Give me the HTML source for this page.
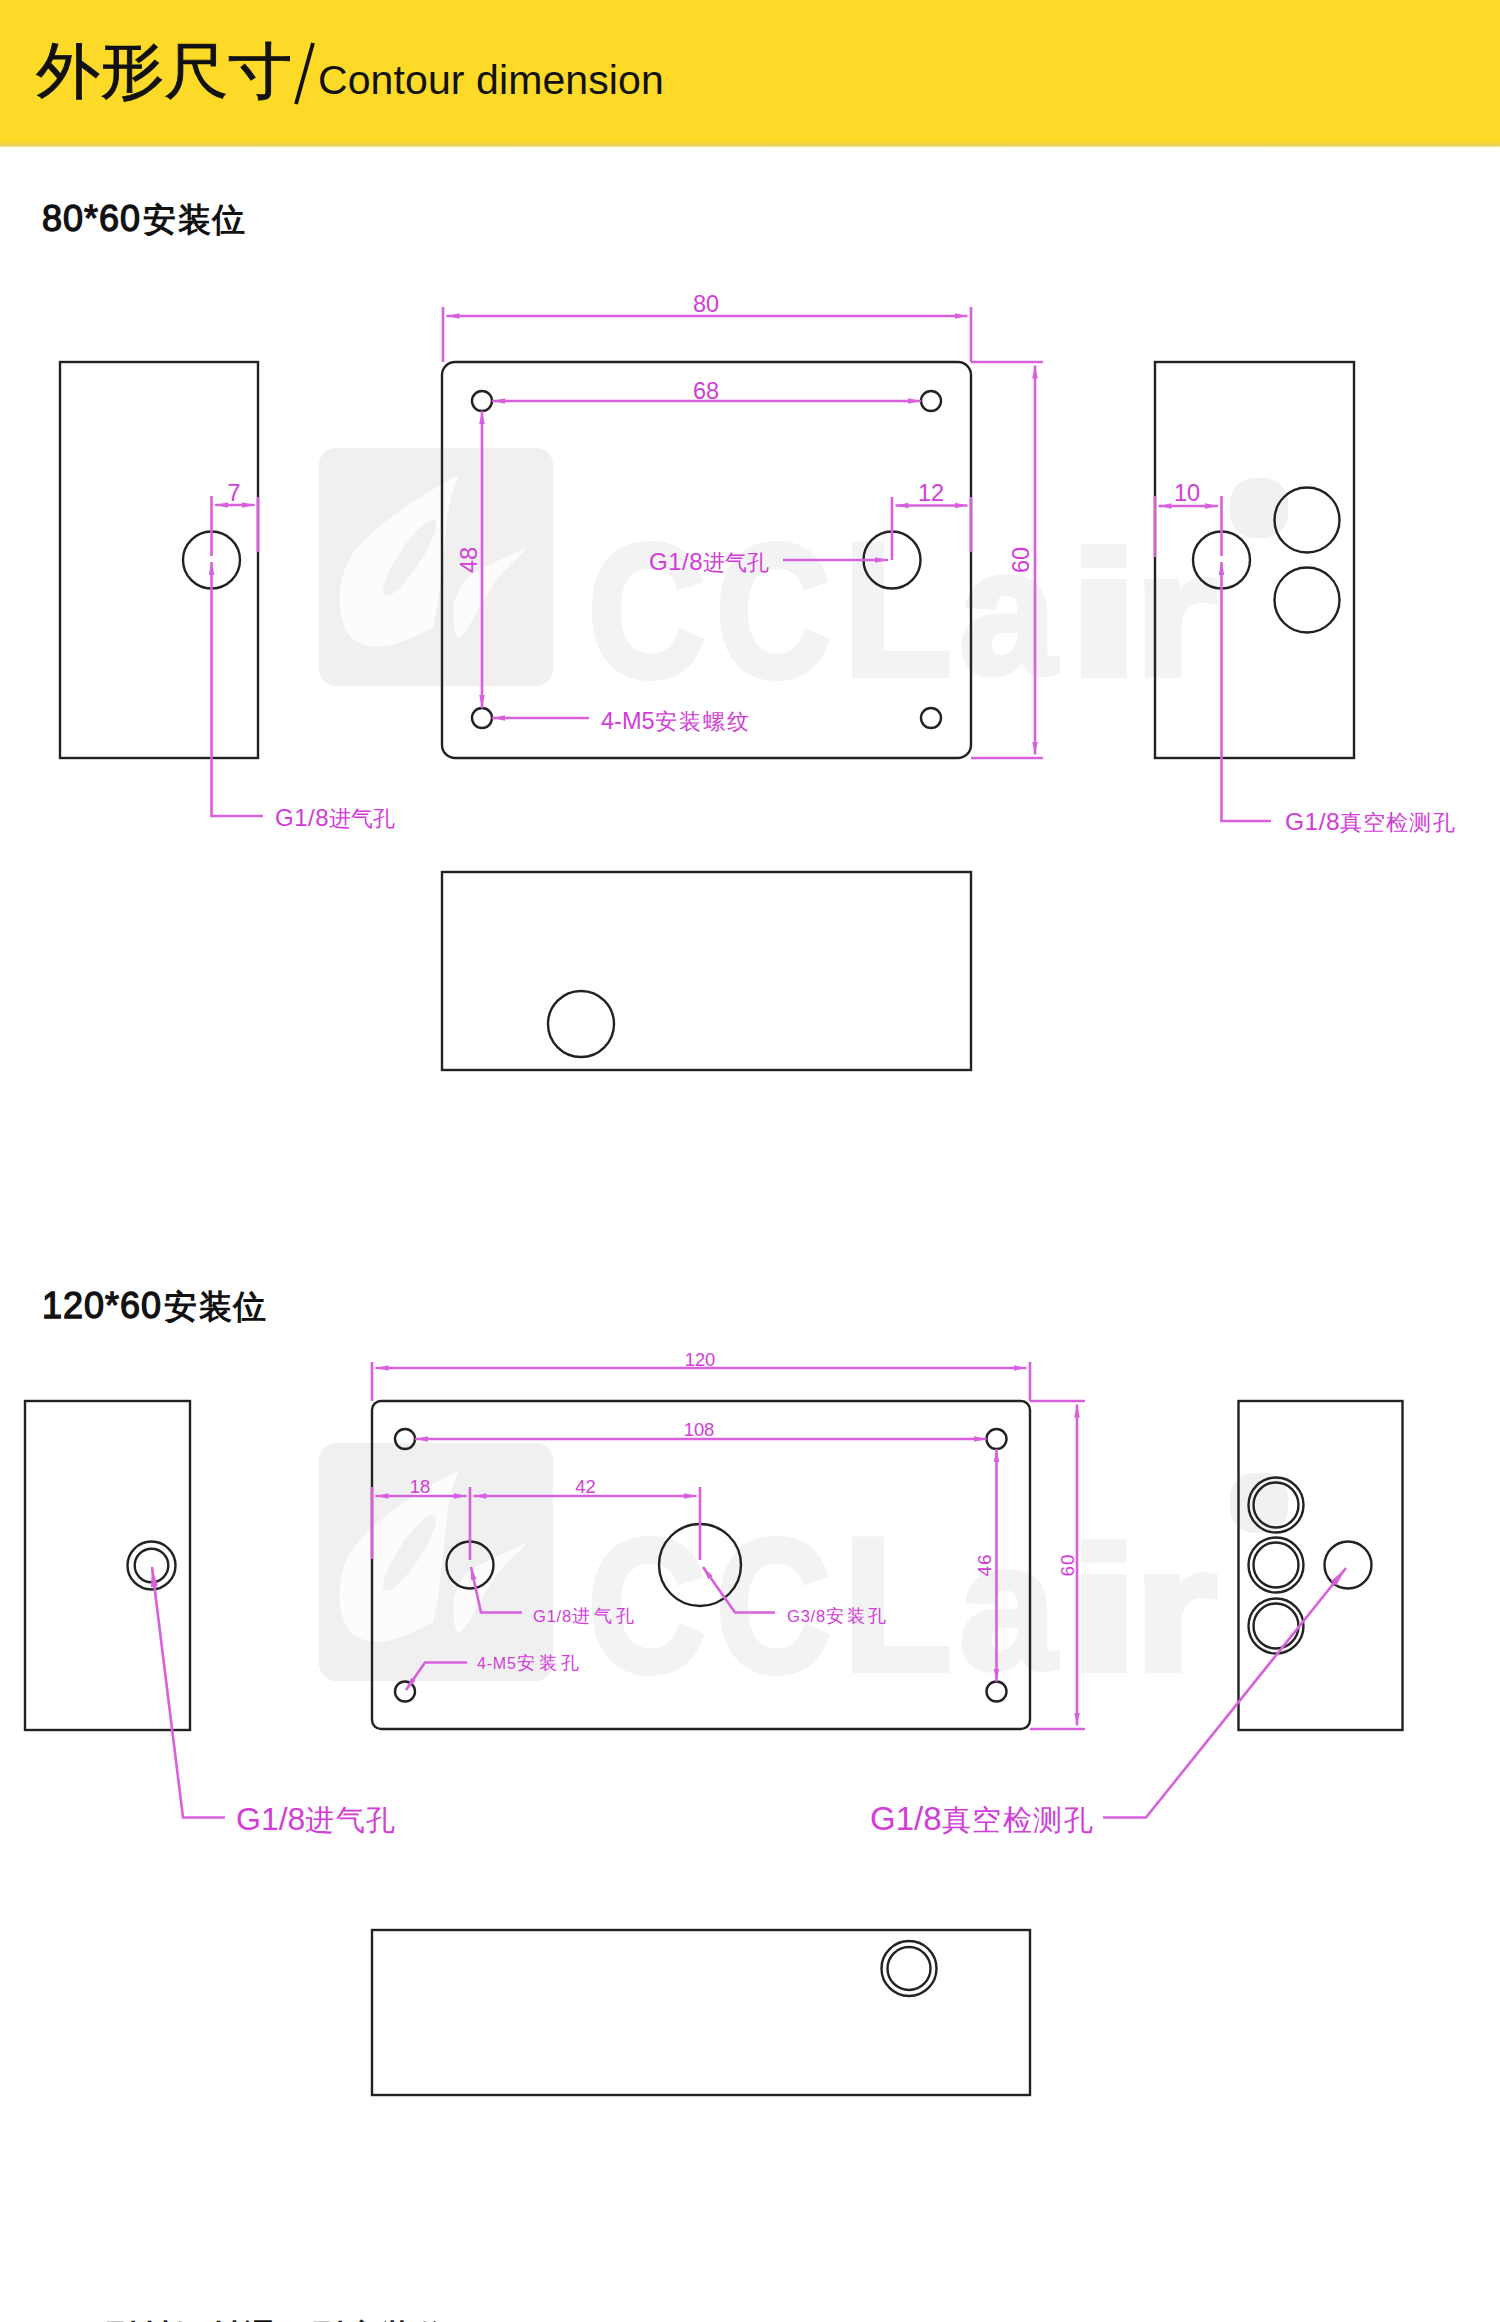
<!DOCTYPE html>
<html><head><meta charset="utf-8">
<style>
html,body{margin:0;padding:0;background:#fff;width:1500px;height:2322px;overflow:hidden;}
body{position:relative;font-family:"Liberation Sans",sans-serif;}
.hdr{position:absolute;left:0;top:0;width:1500px;height:150px;background:linear-gradient(#FDD928 0px,#FDD928 141px,#F4D43C 143px,#E8D25E 145.5px,#FFFDE0 147.5px,#FFFFFF 150px);}
.t1{position:absolute;left:36px;top:30px;font-size:64px;color:#111;white-space:nowrap;line-height:80px;-webkit-text-stroke:0.9px #111;transform:scaleY(0.95);transform-origin:0 70px;}
.sl{position:absolute;left:0;top:0;}
.t2{position:absolute;left:318px;top:55px;font-size:41px;letter-spacing:0.1px;color:#111;white-space:nowrap;line-height:50px;}
.d{font-size:36px;letter-spacing:1px;font-weight:normal;-webkit-text-stroke:1.3px #111;}
.c{font-size:32.5px;letter-spacing:1.5px;margin-left:2px;}
.h2{position:absolute;left:42px;font-weight:bold;color:#111;white-space:nowrap;line-height:40px;}
svg{position:absolute;left:0;top:0;}
</style></head>
<body>
<div class="hdr"></div>
<div class="t1">外形尺寸</div>
<svg class="sl" width="400" height="146"><line x1="313" y1="43" x2="296" y2="104" stroke="#111" stroke-width="3.8"/></svg>
<div class="t2">Contour dimension</div>
<div class="h2" style="top:199px"><span class="d">80*60</span><span class="c">安装位</span></div>
<div class="h2" style="top:1286px"><span class="d">120*60</span><span class="c">安装位</span></div>
<div class="h2" style="top:2317px;left:103px"><span class="c">型材铝材通用型安装位</span></div>
<svg width="1500" height="2322" viewBox="0 0 1500 2322">
<defs>
<marker id="ar" viewBox="0 0 13 6" refX="13" refY="3" markerWidth="13" markerHeight="6" markerUnits="userSpaceOnUse" orient="auto-start-reverse"><path d="M0,0.2 L13,3 L0,5.8 z" fill="#D860DD"/></marker>
<marker id="ar2" viewBox="0 0 20 8" refX="20" refY="4" markerWidth="20" markerHeight="8" markerUnits="userSpaceOnUse" orient="auto"><path d="M0,0.5 L20,4 L0,7.5 z" fill="#D860DD"/></marker>
</defs>
<defs>
<g id="wm">
<rect x="319" y="448" width="234" height="238" rx="17" fill="#f0f0f0"/>
<path d="M459,475 C420,495 378,522 353,553 C335,580 336,620 350,636 C360,648 380,649 395,644 C410,639 425,632 433,627 C440,600 443,560 447,520 C450,500 454,485 459,475 Z" fill="#fcfcfc"/>
<ellipse cx="409.6" cy="557.8" rx="45" ry="11" transform="rotate(-56.6 409.6 557.8)" fill="#f0f0f0"/>
<path d="M528,547 C505,558 480,568 466,579 C456,592 452,605 454,613 C453,622 454,632 458,639 C466,632 472,622 476,613 C483,600 490,590 497,579 C508,566 520,556 528,547 Z" fill="#fcfcfc"/>
<g fill="#f3f3f3" stroke="#f3f3f3" stroke-width="6" font-family="Liberation Sans, sans-serif" font-weight="bold" font-size="190">
<text transform="translate(587.7,676) scale(0.86,1)">C</text>
<text transform="translate(715.8,676) scale(0.84,1)">C</text>
<text transform="translate(843.3,675) scale(0.94,1)">L</text>
<text transform="translate(959.3,673.2) scale(0.915,0.94)">a</text>
<text transform="translate(1066.5,675.1) scale(1.42,0.93)">i</text>
<text transform="translate(1133.3,675) scale(1.14,0.93)">r</text>
</g>
<rect x="1230" y="478" width="58" height="60" rx="24" fill="#f1f1f1"/>
</g>
</defs>
<use href="#wm"/>
<use href="#wm" transform="translate(0,995)"/>
<!-- ===== SECTION 1 ===== -->
<g fill="none" stroke="#222" stroke-width="2.4">
<rect x="60" y="362" width="198" height="396"/>
<circle cx="211.5" cy="560" r="28.5"/>
<rect x="442" y="362" width="529" height="396" rx="13"/>
<circle cx="482" cy="401" r="10"/>
<circle cx="931" cy="401" r="10"/>
<circle cx="482" cy="718" r="10"/>
<circle cx="931" cy="718" r="10"/>
<circle cx="892" cy="560" r="28.5"/>
<rect x="1155" y="362" width="199" height="396"/>
<circle cx="1221.5" cy="560" r="28.5"/>
<circle cx="1307" cy="520" r="32.5"/>
<circle cx="1307" cy="600" r="32.5"/>
<rect x="442" y="872" width="529" height="198"/>
<circle cx="581" cy="1024" r="33"/>
</g>
<g fill="none" stroke="#D860DD" stroke-width="2.6">
<!-- 80 -->
<line x1="443" y1="307" x2="443" y2="362"/>
<line x1="971" y1="307" x2="971" y2="362"/>
<line x1="446.5" y1="316" x2="967.5" y2="316" marker-start="url(#ar)" marker-end="url(#ar)"/>
<!-- 68 -->
<line x1="492" y1="401" x2="921" y2="401" marker-start="url(#ar)" marker-end="url(#ar)"/>
<!-- 48 -->
<line x1="482" y1="411" x2="482" y2="708" marker-start="url(#ar)" marker-end="url(#ar)"/>
<!-- 12 -->
<line x1="892" y1="497" x2="892" y2="560"/>
<line x1="971" y1="497" x2="971" y2="552"/>
<line x1="895.5" y1="505.5" x2="967.5" y2="505.5" marker-start="url(#ar)" marker-end="url(#ar)"/>
<!-- leader G1/8 -->
<line x1="783" y1="560" x2="888" y2="560" marker-end="url(#ar)"/>
<!-- 4-M5 -->
<line x1="589" y1="718" x2="492" y2="718" marker-end="url(#ar)"/>
<!-- 60 -->
<line x1="971" y1="362" x2="1043" y2="362"/>
<line x1="971" y1="758" x2="1043" y2="758"/>
<line x1="1035" y1="365.5" x2="1035" y2="754.5" marker-start="url(#ar)" marker-end="url(#ar)"/>
<!-- left view 7 -->
<line x1="211.5" y1="496" x2="211.5" y2="556"/>
<line x1="258" y1="497" x2="258" y2="552"/>
<line x1="215" y1="505" x2="254.5" y2="505" marker-start="url(#ar)" marker-end="url(#ar)"/>
<polyline points="263,816 211.5,816 211.5,562" marker-end="url(#ar)"/>
<!-- right view 10 -->
<line x1="1155" y1="496" x2="1155" y2="557"/>
<line x1="1221.5" y1="496" x2="1221.5" y2="556"/>
<line x1="1158.5" y1="506" x2="1218" y2="506" marker-start="url(#ar)" marker-end="url(#ar)"/>
<polyline points="1271,821 1221.5,821 1221.5,562" marker-end="url(#ar)"/>
</g>
<g fill="#D23CD8" font-family="Liberation Sans, sans-serif" font-size="22">
<text x="706" y="312" text-anchor="middle" font-size="23.5">80</text>
<text x="706" y="398.5" text-anchor="middle" font-size="23.5">68</text>
<text x="931" y="501" text-anchor="middle" font-size="23.5">12</text>
<text x="234" y="501" text-anchor="middle" font-size="23.5">7</text>
<text x="1187" y="501" text-anchor="middle" font-size="23.5">10</text>
<text transform="translate(476.5,560) rotate(-90)" text-anchor="middle" font-size="23.5">48</text>
<text transform="translate(1029.2,560) rotate(-90)" text-anchor="middle" font-size="23.5">60</text>
<text x="649" y="570"><tspan font-size="24" letter-spacing="0.5">G1/8</tspan><tspan font-size="22" letter-spacing="0">进气孔</tspan></text>
<text x="601" y="729"><tspan font-size="23.5" letter-spacing="0">4-M5</tspan><tspan font-size="22" letter-spacing="2">安装螺纹</tspan></text>
<text x="275" y="825.5"><tspan font-size="24" letter-spacing="0.5">G1/8</tspan><tspan font-size="22" letter-spacing="0">进气孔</tspan></text>
<text x="1285" y="830"><tspan font-size="24.5" letter-spacing="0.5">G1/8</tspan><tspan font-size="22" letter-spacing="1.1">真空检测孔</tspan></text>
</g>
<!-- ===== SECTION 2 ===== -->
<g fill="none" stroke="#222" stroke-width="2.4">
<rect x="25" y="1401" width="165" height="329"/>
<circle cx="151.5" cy="1565.5" r="24"/>
<circle cx="151.5" cy="1565.5" r="16.8"/>
<rect x="372" y="1401" width="658" height="328" rx="9"/>
<circle cx="405" cy="1439" r="10"/>
<circle cx="996.5" cy="1439" r="10"/>
<circle cx="405" cy="1691.5" r="10"/>
<circle cx="996.5" cy="1691.5" r="10"/>
<circle cx="470" cy="1565" r="23.5"/>
<circle cx="700" cy="1565" r="41"/>
<rect x="1238.5" y="1401" width="164" height="329"/>
<circle cx="1276" cy="1505" r="27.5"/>
<circle cx="1276" cy="1505" r="22.5"/>
<circle cx="1276" cy="1565" r="27.5"/>
<circle cx="1276" cy="1565" r="22.5"/>
<circle cx="1276" cy="1626" r="27.5"/>
<circle cx="1276" cy="1626" r="22.5"/>
<circle cx="1348" cy="1565" r="23.5"/>
<rect x="372" y="1930" width="658" height="165"/>
<circle cx="909" cy="1968.5" r="27.5"/>
<circle cx="909" cy="1968.5" r="21.5"/>
</g>
<g fill="none" stroke="#D860DD" stroke-width="2.6">
<line x1="372" y1="1362" x2="372" y2="1401"/>
<line x1="1030" y1="1362" x2="1030" y2="1401"/>
<line x1="375.5" y1="1368" x2="1026.5" y2="1368" marker-start="url(#ar)" marker-end="url(#ar)"/>
<line x1="415" y1="1439" x2="986.5" y2="1439" marker-start="url(#ar)" marker-end="url(#ar)"/>
<line x1="372" y1="1487" x2="372" y2="1559"/>
<line x1="470" y1="1487" x2="470" y2="1560"/>
<line x1="700" y1="1487" x2="700" y2="1560"/>
<line x1="375.5" y1="1496" x2="466.5" y2="1496" marker-start="url(#ar)" marker-end="url(#ar)"/>
<line x1="473.5" y1="1496" x2="696.5" y2="1496" marker-start="url(#ar)" marker-end="url(#ar)"/>
<polyline points="522,1612.5 481,1612.5 471,1567" marker-end="url(#ar)"/>
<polyline points="775,1612.5 735,1612.5 703,1567" marker-end="url(#ar)"/>
<polyline points="467,1662.5 425,1662.5 406,1690" marker-end="url(#ar)"/>
<line x1="996.5" y1="1449" x2="996.5" y2="1681.5" marker-start="url(#ar)" marker-end="url(#ar)"/>
<line x1="1030" y1="1401" x2="1085" y2="1401"/>
<line x1="1030" y1="1729" x2="1085" y2="1729"/>
<line x1="1077" y1="1404.5" x2="1077" y2="1725.5" marker-start="url(#ar)" marker-end="url(#ar)"/>
<polyline points="225,1817.5 183,1817.5 152,1567" marker-end="url(#ar2)"/>
<polyline points="1103,1817.5 1146,1817.5 1346,1568" marker-end="url(#ar2)"/>
</g>
<g fill="#D23CD8" font-family="Liberation Sans, sans-serif" font-size="18">
<text x="700" y="1365.5" text-anchor="middle" font-size="18.4">120</text>
<text x="699" y="1436" text-anchor="middle" font-size="18.4">108</text>
<text x="420" y="1492.5" text-anchor="middle" font-size="18.4">18</text>
<text x="585.5" y="1492.5" text-anchor="middle" font-size="18.4">42</text>
<text transform="translate(990.5,1565) rotate(-90)" text-anchor="middle" font-size="19" letter-spacing="1">46</text>
<text transform="translate(1073.5,1565) rotate(-90)" text-anchor="middle" font-size="19" letter-spacing="1">60</text>
<text x="533" y="1622"><tspan font-size="16.5" letter-spacing="0.8">G1/8</tspan><tspan font-size="17.5" letter-spacing="4">进气孔</tspan></text>
<text x="787" y="1621.5"><tspan font-size="16.5" letter-spacing="0.8">G3/8</tspan><tspan font-size="17.5" letter-spacing="3.2">安装孔</tspan></text>
<text x="477" y="1669"><tspan font-size="16" letter-spacing="0.8">4-M5</tspan><tspan font-size="17.5" letter-spacing="4">安装孔</tspan></text>
<text x="236" y="1829.5"><tspan font-size="32" letter-spacing="0">G1/8</tspan><tspan font-size="29" letter-spacing="1.5">进气孔</tspan></text>
<text x="870" y="1829.5"><tspan font-size="33" letter-spacing="0">G1/8</tspan><tspan font-size="29" letter-spacing="1.5">真空检测孔</tspan></text>
</g>
</svg>
</body></html>
